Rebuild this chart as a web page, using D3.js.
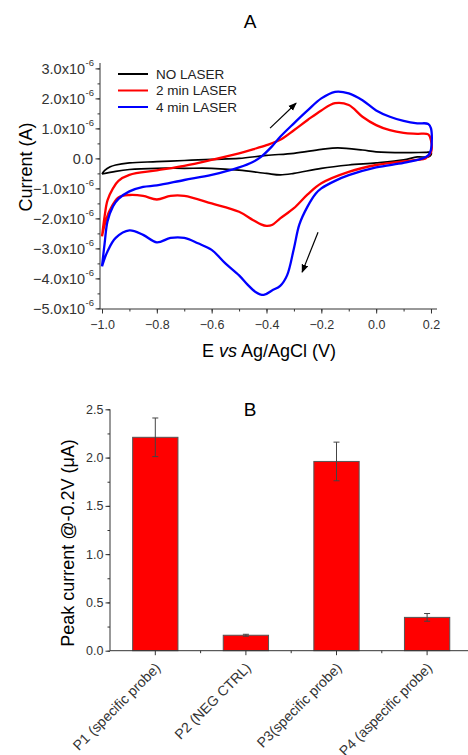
<!DOCTYPE html>
<html>
<head>
<meta charset="utf-8">
<script src="https://cdn.jsdelivr.net/npm/d3@7/dist/d3.min.js"></script>
<style>
  body { margin: 0; background: #fff; }
  svg { display: block; font-family: "Liberation Sans", Arial, sans-serif; }
  .tick-label { fill: #333; }
</style>
</head>
<body>
<svg id="chart" width="468" height="755"></svg>
<script>
// Panel A — cyclic voltammograms, [E (V), I (x1e-6 A)] going -1.0 -> 0.2 -> -1.0
var noLaser = [
  [-1.0,-0.52],[-0.99,-0.4],[-0.97,-0.28],[-0.95,-0.22],[-0.9,-0.15],[-0.8,-0.11],[-0.7,-0.07],
  [-0.6,-0.03],[-0.5,0.0],[-0.4,0.1],[-0.3,0.17],[-0.2,0.3],[-0.14,0.35],[-0.05,0.28],[0.0,0.22],
  [0.1,0.19],[0.18,0.2],[0.2,0.2],
  [0.2,0.12],[0.19,0.05],[0.15,0.05],[0.1,-0.05],[0.0,-0.15],[-0.1,-0.22],[-0.2,-0.33],[-0.3,-0.5],
  [-0.35,-0.55],[-0.4,-0.5],[-0.5,-0.39],[-0.6,-0.33],[-0.7,-0.33],[-0.8,-0.33],[-0.9,-0.37],
  [-0.95,-0.43],[-1.0,-0.52]
];
var laser2 = [
  [-1.0,-2.6],[-0.99,-1.9],[-0.98,-1.4],[-0.96,-1.0],[-0.94,-0.75],[-0.9,-0.55],[-0.8,-0.4],
  [-0.7,-0.25],[-0.6,-0.05],[-0.5,0.17],[-0.45,0.3],[-0.4,0.44],[-0.35,0.62],[-0.3,0.94],
  [-0.25,1.28],[-0.2,1.6],[-0.15,1.84],[-0.1,1.78],[-0.05,1.39],[0.0,1.11],[0.05,0.94],
  [0.1,0.85],[0.15,0.82],[0.19,0.8],[0.2,0.6],
  [0.2,0.2],[0.18,0.0],[0.15,-0.05],[0.1,-0.1],[0.0,-0.22],[-0.1,-0.45],[-0.2,-0.83],[-0.25,-1.2],
  [-0.3,-1.66],[-0.35,-2.0],[-0.38,-2.22],[-0.4,-2.25],[-0.42,-2.2],[-0.45,-2.05],[-0.5,-1.78],
  [-0.6,-1.5],[-0.7,-1.25],[-0.75,-1.25],[-0.8,-1.37],[-0.85,-1.25],[-0.9,-1.22],[-0.94,-1.3],
  [-0.97,-1.7],[-0.99,-2.2],[-1.0,-2.6]
];
var laser4 = [
  [-1.0,-3.6],[-0.99,-2.8],[-0.98,-2.1],[-0.96,-1.6],[-0.94,-1.35],[-0.9,-1.1],[-0.85,-0.95],
  [-0.8,-0.9],[-0.7,-0.72],[-0.6,-0.55],[-0.5,-0.3],[-0.45,-0.12],[-0.42,0.05],[-0.38,0.4],
  [-0.35,0.72],[-0.3,1.17],[-0.25,1.6],[-0.2,2.0],[-0.15,2.22],[-0.1,2.17],[-0.05,1.94],
  [0.0,1.6],[0.05,1.39],[0.1,1.25],[0.15,1.17],[0.19,1.15],[0.2,1.0],
  [0.2,0.3],[0.19,0.1],[0.17,0.0],[0.1,-0.15],[0.0,-0.3],[-0.1,-0.56],[-0.15,-0.75],[-0.2,-1.0],
  [-0.22,-1.17],[-0.25,-1.6],[-0.28,-2.2],[-0.3,-3.0],[-0.325,-3.9],[-0.35,-4.25],[-0.38,-4.4],
  [-0.41,-4.55],[-0.44,-4.45],[-0.47,-4.2],[-0.5,-3.9],[-0.55,-3.5],[-0.6,-3.05],[-0.65,-2.83],
  [-0.7,-2.65],[-0.75,-2.65],[-0.8,-2.8],[-0.85,-2.55],[-0.9,-2.4],[-0.95,-2.65],[-0.98,-3.1],
  [-1.0,-3.6]
];
var cvNames  = ['NO LASER', '2 min LASER', '4 min LASER'];
var cvColors = ['#000000', '#ff0000', '#0000ff'];
var cvTicksX = [-1.0, -0.8, -0.6, -0.4, -0.2, 0.0, 0.2];
var cvTicksY = [3, 2, 1, 0, -1, -2, -3, -4, -5];
// scan direction arrows, [E, I] from -> to
var scanArrows = [
  [[-0.387, 1.01], [-0.292, 1.84]],
  [[-0.212, -2.46], [-0.27, -3.79]]
];

// Panel B — peak currents (µA)
var probes  = ['P1 (specific probe)', 'P2 (NEG CTRL)', 'P3(specific probe)', 'P4 (aspecific probe)'];
var peak    = [2.21, 0.16, 1.96, 0.345];
var peakErr = [0.2, 0.01, 0.2, 0.04];
var peakTicks = [0.0, 0.5, 1.0, 1.5, 2.0, 2.5];

var svg = d3.select('#chart');
var AXIS = '#333';
var FONT = '"Liberation Sans", Arial, sans-serif';

// arrow marker
svg.append('defs').append('marker')
  .attr('id', 'ah').attr('viewBox', '0 0 10 10').attr('refX', 9).attr('refY', 5)
  .attr('markerWidth', 7).attr('markerHeight', 7).attr('orient', 'auto')
  .append('path').attr('d', 'M0,1 L10,5 L0,9 Z').attr('fill', '#000');

// ---------- Panel A ----------
var xA = d3.scaleLinear().domain([-1.0073, 0.2219]).range([100, 437]);
var yA = d3.scaleLinear().domain([-5.02, 3.18]).range([309, 63]);

var gA = svg.append('g');

gA.append('text').attr('x', 250).attr('y', 28).attr('text-anchor', 'middle')
  .attr('font-size', 19).text('A');

// x axis
var axA = gA.append('g').attr('transform', 'translate(0,309)');
var axAminor = axA.append('g').call(d3.axisBottom(xA).tickValues(d3.range(-1.0, 0.21, 0.1)).tickSize(2.5).tickFormat(''));
axAminor.select('.domain').remove();
var axAmajor = axA.append('g').call(d3.axisBottom(xA).tickValues(cvTicksX).tickSize(4.5).tickSizeOuter(0)
  .tickFormat(function(d){ return Math.abs(d) < 1e-9 ? '0.0' : d3.format('.1f')(d); }));
axAmajor.select('.domain').attr('d', 'M' + xA.range()[0] + ',0H' + xA.range()[1]);
axA.selectAll('line, .domain').attr('stroke', AXIS);
axAmajor.selectAll('text').attr('class', 'tick-label').attr('font-size', 12.5)
  .attr('font-family', FONT).attr('dy', '1.0em');

// y axis
var ayA = gA.append('g').attr('transform', 'translate(100,0)');
var ayAminor = ayA.append('g').call(d3.axisLeft(yA).tickValues(d3.range(-5, 3.01, 0.5)).tickSize(2.5).tickFormat(''));
ayAminor.select('.domain').remove();
var ayAmajor = ayA.append('g').call(d3.axisLeft(yA).tickValues(cvTicksY).tickSize(4.5).tickSizeOuter(0).tickFormat(''));
ayAmajor.select('.domain').attr('d', 'M0,' + yA.range()[0] + 'V' + yA.range()[1]);
ayA.selectAll('line, .domain').attr('stroke', AXIS);
cvTicksY.forEach(function(v){
  var t = ayA.append('text').attr('class', 'tick-label').attr('font-size', 14.5)
    .attr('text-anchor', 'end').attr('x', v === 0 ? -7 : -6).attr('y', yA(v)).attr('dy', '0.36em');
  if(v === 0){ t.text('0.0'); return; }
  t.append('tspan').text(d3.format('.1f')(v) + 'x10');
  t.append('tspan').attr('font-size', 9.5).attr('dy', '-0.8em').attr('dx', '0.5').text('-6');
});

gA.append('text').attr('transform', 'translate(32,167) rotate(-90)').attr('text-anchor', 'middle')
  .attr('font-size', 18).text('Current (A)');

var xt = gA.append('text').attr('x', 269).attr('y', 357).attr('text-anchor', 'middle').attr('font-size', 18);
xt.append('tspan').text('E ');
xt.append('tspan').attr('font-style', 'italic').text('vs');
xt.append('tspan').text(' Ag/AgCl (V)');

// curves
var lineA = d3.line().x(function(d){ return xA(d[0]); }).y(function(d){ return yA(d[1]); })
  .curve(d3.curveCatmullRom.alpha(0.5));
[noLaser, laser2, laser4].forEach(function(s, i){
  gA.append('path').datum(s).attr('d', lineA).attr('fill', 'none')
    .attr('stroke', cvColors[i]).attr('stroke-width', i === 0 ? 1.7 : 2.3)
    .attr('stroke-linejoin', 'round');
});

// arrows
scanArrows.forEach(function(a){
  gA.append('line')
    .attr('x1', xA(a[0][0])).attr('y1', yA(a[0][1]))
    .attr('x2', xA(a[1][0])).attr('y2', yA(a[1][1]))
    .attr('stroke', '#000').attr('stroke-width', 1.2).attr('marker-end', 'url(#ah)');
});

// legend
cvNames.forEach(function(n, i){
  var ly = 74 + i * 16.5;
  gA.append('line').attr('x1', 118).attr('x2', 148).attr('y1', ly).attr('y2', ly)
    .attr('stroke', cvColors[i]).attr('stroke-width', 2);
  gA.append('text').attr('x', 156).attr('y', ly).attr('dy', '0.36em')
    .attr('font-size', 13.5).attr('fill', '#222').text(n);
});

// ---------- Panel B ----------
var xB = d3.scaleBand().domain(probes).range([110, 472.4]).paddingInner(0.5).paddingOuter(0.25);
var yB = d3.scaleLinear().domain([0, 2.5]).range([650.7, 409.3]);

var gB = svg.append('g');
gB.append('text').attr('x', 250).attr('y', 416).attr('text-anchor', 'middle')
  .attr('font-size', 19).text('B');

// bars
gB.selectAll('.bar').data(probes).enter().append('rect')
  .attr('class', 'bar')
  .attr('x', function(d){ return xB(d); })
  .attr('width', xB.bandwidth())
  .attr('y', function(d, i){ return yB(peak[i]); })
  .attr('height', function(d, i){ return yB(0) - yB(peak[i]); })
  .attr('fill', '#ff0000').attr('stroke', '#555').attr('stroke-width', 1);

// error bars
probes.forEach(function(p, i){
  var cx = xB(p) + xB.bandwidth() / 2;
  var hi = yB(peak[i] + peakErr[i]), lo = yB(peak[i] - peakErr[i]);
  gB.append('line').attr('x1', cx).attr('x2', cx).attr('y1', hi).attr('y2', lo)
    .attr('stroke', '#444').attr('stroke-width', 1);
  [hi, lo].forEach(function(y){
    gB.append('line').attr('x1', cx - 3).attr('x2', cx + 3).attr('y1', y).attr('y2', y)
      .attr('stroke', '#444').attr('stroke-width', 1);
  });
});

// y axis
var ayB = gB.append('g').attr('transform', 'translate(110,0)');
var ayBminor = ayB.append('g').call(d3.axisLeft(yB).tickValues(d3.range(0, 2.51, 0.25)).tickSize(2.5).tickFormat(''));
ayBminor.select('.domain').remove();
var ayBmajor = ayB.append('g').call(d3.axisLeft(yB).tickValues(peakTicks).tickSize(4.5).tickSizeOuter(0)
  .tickFormat(d3.format('.1f')));
ayBmajor.select('.domain').attr('d', 'M0,' + yB.range()[0] + 'V' + yB.range()[1]);
ayB.selectAll('line, .domain').attr('stroke', AXIS);
ayBmajor.selectAll('text').attr('class', 'tick-label').attr('font-size', 12.5)
  .attr('font-family', FONT).attr('x', -6.5);

// x axis
var axB = gB.append('g').attr('transform', 'translate(0,' + yB(0) + ')');
axB.append('path').attr('d', 'M110,0H472.4').attr('stroke', AXIS).attr('fill', 'none');
probes.forEach(function(p, i){
  var cx = xB(p) + xB.bandwidth() / 2;
  axB.append('line').attr('x1', cx).attr('x2', cx).attr('y1', 0).attr('y2', 4.5).attr('stroke', AXIS);
  var edge = xB(p) + xB.bandwidth() * 1.5;
  axB.append('line').attr('x1', edge).attr('x2', edge).attr('y1', 0).attr('y2', 2.5).attr('stroke', AXIS);
  axB.append('text').attr('class', 'tick-label').attr('font-size', 14).attr('text-anchor', 'end')
    .attr('transform', 'translate(' + (cx + 6) + ',18) rotate(-45)').text(p);
});

gB.append('text').attr('transform', 'translate(74,543) rotate(-90)').attr('text-anchor', 'middle')
  .attr('font-size', 18).text('Peak current @-0.2V (\u03bcA)');
</script>
</body>
</html>
